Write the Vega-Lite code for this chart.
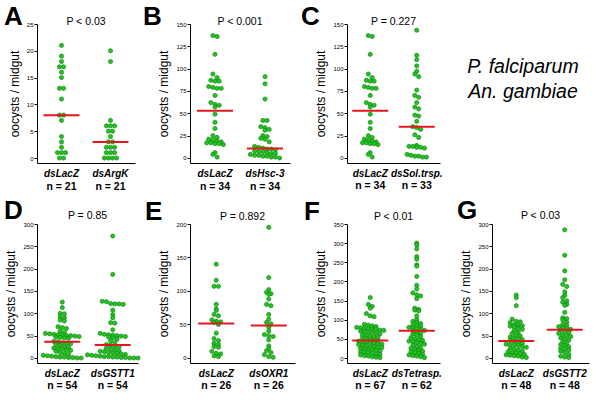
{
"$schema": "https://vega.github.io/schema/vega-lite/v6.json",
"padding": {"left": 4, "top": 4, "right": 5, "bottom": 5},
"datasets": {
"A": [{"g":"dsLacZ","v":21},{"g":"dsLacZ","v":19},{"g":"dsLacZ","v":18},{"g":"dsLacZ","v":17},{"g":"dsLacZ","v":17},{"g":"dsLacZ","v":16},{"g":"dsLacZ","v":15},{"g":"dsLacZ","v":13},{"g":"dsLacZ","v":13},{"g":"dsLacZ","v":11},{"g":"dsLacZ","v":8},{"g":"dsLacZ","v":8},{"g":"dsLacZ","v":7},{"g":"dsLacZ","v":4},{"g":"dsLacZ","v":3},{"g":"dsLacZ","v":2},{"g":"dsLacZ","v":1},{"g":"dsLacZ","v":1},{"g":"dsLacZ","v":1},{"g":"dsLacZ","v":0},{"g":"dsLacZ","v":0},
{"g":"dsArgK","v":20},{"g":"dsArgK","v":18},{"g":"dsArgK","v":7},{"g":"dsArgK","v":6},{"g":"dsArgK","v":6},{"g":"dsArgK","v":6},{"g":"dsArgK","v":5},{"g":"dsArgK","v":5},{"g":"dsArgK","v":4},{"g":"dsArgK","v":3},{"g":"dsArgK","v":3},{"g":"dsArgK","v":2},{"g":"dsArgK","v":2},{"g":"dsArgK","v":2},{"g":"dsArgK","v":1},{"g":"dsArgK","v":1},{"g":"dsArgK","v":1},{"g":"dsArgK","v":0},{"g":"dsArgK","v":0},{"g":"dsArgK","v":0},{"g":"dsArgK","v":0}],
"B": [{"g":"dsLacZ","v":137},{"g":"dsLacZ","v":136},{"g":"dsLacZ","v":116},{"g":"dsLacZ","v":94},{"g":"dsLacZ","v":90},{"g":"dsLacZ","v":87},{"g":"dsLacZ","v":86},{"g":"dsLacZ","v":86},{"g":"dsLacZ","v":80},{"g":"dsLacZ","v":79},{"g":"dsLacZ","v":78},{"g":"dsLacZ","v":78},{"g":"dsLacZ","v":70},{"g":"dsLacZ","v":62},{"g":"dsLacZ","v":60},{"g":"dsLacZ","v":59},{"g":"dsLacZ","v":57},{"g":"dsLacZ","v":49},{"g":"dsLacZ","v":40},{"g":"dsLacZ","v":33},{"g":"dsLacZ","v":25},{"g":"dsLacZ","v":23},{"g":"dsLacZ","v":21},{"g":"dsLacZ","v":20},{"g":"dsLacZ","v":19},{"g":"dsLacZ","v":18},{"g":"dsLacZ","v":17},{"g":"dsLacZ","v":17},{"g":"dsLacZ","v":16},{"g":"dsLacZ","v":16},{"g":"dsLacZ","v":15},{"g":"dsLacZ","v":6},{"g":"dsLacZ","v":4},{"g":"dsLacZ","v":1},
{"g":"dsHsc-3","v":91},{"g":"dsHsc-3","v":83},{"g":"dsHsc-3","v":66},{"g":"dsHsc-3","v":42},{"g":"dsHsc-3","v":42},{"g":"dsHsc-3","v":35},{"g":"dsHsc-3","v":34},{"g":"dsHsc-3","v":32},{"g":"dsHsc-3","v":31},{"g":"dsHsc-3","v":25},{"g":"dsHsc-3","v":24},{"g":"dsHsc-3","v":22},{"g":"dsHsc-3","v":21},{"g":"dsHsc-3","v":18},{"g":"dsHsc-3","v":13},{"g":"dsHsc-3","v":12},{"g":"dsHsc-3","v":11},{"g":"dsHsc-3","v":10},{"g":"dsHsc-3","v":10},{"g":"dsHsc-3","v":9},{"g":"dsHsc-3","v":8},{"g":"dsHsc-3","v":7},{"g":"dsHsc-3","v":7},{"g":"dsHsc-3","v":6},{"g":"dsHsc-3","v":5},{"g":"dsHsc-3","v":5},{"g":"dsHsc-3","v":4},{"g":"dsHsc-3","v":3},{"g":"dsHsc-3","v":3},{"g":"dsHsc-3","v":2},{"g":"dsHsc-3","v":2},{"g":"dsHsc-3","v":1},{"g":"dsHsc-3","v":1},{"g":"dsHsc-3","v":0}],
"C": [{"g":"dsLacZ","v":137},{"g":"dsLacZ","v":136},{"g":"dsLacZ","v":116},{"g":"dsLacZ","v":94},{"g":"dsLacZ","v":90},{"g":"dsLacZ","v":87},{"g":"dsLacZ","v":86},{"g":"dsLacZ","v":86},{"g":"dsLacZ","v":80},{"g":"dsLacZ","v":79},{"g":"dsLacZ","v":78},{"g":"dsLacZ","v":78},{"g":"dsLacZ","v":70},{"g":"dsLacZ","v":62},{"g":"dsLacZ","v":60},{"g":"dsLacZ","v":59},{"g":"dsLacZ","v":57},{"g":"dsLacZ","v":49},{"g":"dsLacZ","v":40},{"g":"dsLacZ","v":33},{"g":"dsLacZ","v":25},{"g":"dsLacZ","v":23},{"g":"dsLacZ","v":21},{"g":"dsLacZ","v":20},{"g":"dsLacZ","v":19},{"g":"dsLacZ","v":18},{"g":"dsLacZ","v":17},{"g":"dsLacZ","v":17},{"g":"dsLacZ","v":16},{"g":"dsLacZ","v":16},{"g":"dsLacZ","v":15},{"g":"dsLacZ","v":6},{"g":"dsLacZ","v":4},{"g":"dsLacZ","v":1},
{"g":"dsSol.trsp.","v":143},{"g":"dsSol.trsp.","v":115},{"g":"dsSol.trsp.","v":110},{"g":"dsSol.trsp.","v":103},{"g":"dsSol.trsp.","v":97},{"g":"dsSol.trsp.","v":94},{"g":"dsSol.trsp.","v":91},{"g":"dsSol.trsp.","v":76},{"g":"dsSol.trsp.","v":70},{"g":"dsSol.trsp.","v":68},{"g":"dsSol.trsp.","v":62},{"g":"dsSol.trsp.","v":57},{"g":"dsSol.trsp.","v":55},{"g":"dsSol.trsp.","v":48},{"g":"dsSol.trsp.","v":47},{"g":"dsSol.trsp.","v":41},{"g":"dsSol.trsp.","v":35},{"g":"dsSol.trsp.","v":34},{"g":"dsSol.trsp.","v":32},{"g":"dsSol.trsp.","v":26},{"g":"dsSol.trsp.","v":23},{"g":"dsSol.trsp.","v":14},{"g":"dsSol.trsp.","v":13},{"g":"dsSol.trsp.","v":13},{"g":"dsSol.trsp.","v":12},{"g":"dsSol.trsp.","v":12},{"g":"dsSol.trsp.","v":11},{"g":"dsSol.trsp.","v":4},{"g":"dsSol.trsp.","v":3},{"g":"dsSol.trsp.","v":2},{"g":"dsSol.trsp.","v":2},{"g":"dsSol.trsp.","v":1},{"g":"dsSol.trsp.","v":1}],
"D": [{"g":"dsLacZ","v":125},{"g":"dsLacZ","v":113},{"g":"dsLacZ","v":100},{"g":"dsLacZ","v":99},{"g":"dsLacZ","v":92},{"g":"dsLacZ","v":90},{"g":"dsLacZ","v":85},{"g":"dsLacZ","v":83},{"g":"dsLacZ","v":70},{"g":"dsLacZ","v":68},{"g":"dsLacZ","v":66},{"g":"dsLacZ","v":60},{"g":"dsLacZ","v":57},{"g":"dsLacZ","v":55},{"g":"dsLacZ","v":54},{"g":"dsLacZ","v":53},{"g":"dsLacZ","v":52},{"g":"dsLacZ","v":51},{"g":"dsLacZ","v":50},{"g":"dsLacZ","v":50},{"g":"dsLacZ","v":49},{"g":"dsLacZ","v":48},{"g":"dsLacZ","v":47},{"g":"dsLacZ","v":46},{"g":"dsLacZ","v":45},{"g":"dsLacZ","v":44},{"g":"dsLacZ","v":37},{"g":"dsLacZ","v":36},{"g":"dsLacZ","v":34},{"g":"dsLacZ","v":33},{"g":"dsLacZ","v":32},{"g":"dsLacZ","v":30},{"g":"dsLacZ","v":28},{"g":"dsLacZ","v":25},{"g":"dsLacZ","v":24},{"g":"dsLacZ","v":22},{"g":"dsLacZ","v":21},{"g":"dsLacZ","v":20},{"g":"dsLacZ","v":18},{"g":"dsLacZ","v":17},{"g":"dsLacZ","v":15},{"g":"dsLacZ","v":12},{"g":"dsLacZ","v":10},{"g":"dsLacZ","v":8},{"g":"dsLacZ","v":6},{"g":"dsLacZ","v":5},{"g":"dsLacZ","v":4},{"g":"dsLacZ","v":3},{"g":"dsLacZ","v":2},{"g":"dsLacZ","v":2},{"g":"dsLacZ","v":1},{"g":"dsLacZ","v":1},{"g":"dsLacZ","v":0},{"g":"dsLacZ","v":0},
{"g":"dsGSTT1","v":273},{"g":"dsGSTT1","v":187},{"g":"dsGSTT1","v":127},{"g":"dsGSTT1","v":126},{"g":"dsGSTT1","v":122},{"g":"dsGSTT1","v":121},{"g":"dsGSTT1","v":121},{"g":"dsGSTT1","v":120},{"g":"dsGSTT1","v":107},{"g":"dsGSTT1","v":97},{"g":"dsGSTT1","v":90},{"g":"dsGSTT1","v":79},{"g":"dsGSTT1","v":78},{"g":"dsGSTT1","v":63},{"g":"dsGSTT1","v":55},{"g":"dsGSTT1","v":53},{"g":"dsGSTT1","v":52},{"g":"dsGSTT1","v":51},{"g":"dsGSTT1","v":50},{"g":"dsGSTT1","v":49},{"g":"dsGSTT1","v":48},{"g":"dsGSTT1","v":47},{"g":"dsGSTT1","v":45},{"g":"dsGSTT1","v":42},{"g":"dsGSTT1","v":38},{"g":"dsGSTT1","v":34},{"g":"dsGSTT1","v":30},{"g":"dsGSTT1","v":28},{"g":"dsGSTT1","v":26},{"g":"dsGSTT1","v":25},{"g":"dsGSTT1","v":22},{"g":"dsGSTT1","v":20},{"g":"dsGSTT1","v":18},{"g":"dsGSTT1","v":16},{"g":"dsGSTT1","v":15},{"g":"dsGSTT1","v":14},{"g":"dsGSTT1","v":12},{"g":"dsGSTT1","v":11},{"g":"dsGSTT1","v":10},{"g":"dsGSTT1","v":9},{"g":"dsGSTT1","v":8},{"g":"dsGSTT1","v":7},{"g":"dsGSTT1","v":6},{"g":"dsGSTT1","v":5},{"g":"dsGSTT1","v":4},{"g":"dsGSTT1","v":3},{"g":"dsGSTT1","v":3},{"g":"dsGSTT1","v":2},{"g":"dsGSTT1","v":2},{"g":"dsGSTT1","v":1},{"g":"dsGSTT1","v":1},{"g":"dsGSTT1","v":0},{"g":"dsGSTT1","v":0},{"g":"dsGSTT1","v":0}],
"E": [{"g":"dsLacZ","v":140},{"g":"dsLacZ","v":116},{"g":"dsLacZ","v":107},{"g":"dsLacZ","v":107},{"g":"dsLacZ","v":80},{"g":"dsLacZ","v":73},{"g":"dsLacZ","v":71},{"g":"dsLacZ","v":65},{"g":"dsLacZ","v":63},{"g":"dsLacZ","v":57},{"g":"dsLacZ","v":55},{"g":"dsLacZ","v":54},{"g":"dsLacZ","v":53},{"g":"dsLacZ","v":50},{"g":"dsLacZ","v":37},{"g":"dsLacZ","v":29},{"g":"dsLacZ","v":26},{"g":"dsLacZ","v":22},{"g":"dsLacZ","v":20},{"g":"dsLacZ","v":17},{"g":"dsLacZ","v":16},{"g":"dsLacZ","v":10},{"g":"dsLacZ","v":7},{"g":"dsLacZ","v":6},{"g":"dsLacZ","v":3},{"g":"dsLacZ","v":2},
{"g":"dsOXR1","v":195},{"g":"dsOXR1","v":120},{"g":"dsOXR1","v":102},{"g":"dsOXR1","v":98},{"g":"dsOXR1","v":96},{"g":"dsOXR1","v":95},{"g":"dsOXR1","v":88},{"g":"dsOXR1","v":80},{"g":"dsOXR1","v":78},{"g":"dsOXR1","v":65},{"g":"dsOXR1","v":58},{"g":"dsOXR1","v":53},{"g":"dsOXR1","v":51},{"g":"dsOXR1","v":46},{"g":"dsOXR1","v":40},{"g":"dsOXR1","v":35},{"g":"dsOXR1","v":33},{"g":"dsOXR1","v":32},{"g":"dsOXR1","v":27},{"g":"dsOXR1","v":18},{"g":"dsOXR1","v":14},{"g":"dsOXR1","v":11},{"g":"dsOXR1","v":8},{"g":"dsOXR1","v":5},{"g":"dsOXR1","v":2},{"g":"dsOXR1","v":1}],
"F": [{"g":"dsLacZ","v":158},{"g":"dsLacZ","v":140},{"g":"dsLacZ","v":135},{"g":"dsLacZ","v":130},{"g":"dsLacZ","v":116},{"g":"dsLacZ","v":110},{"g":"dsLacZ","v":108},{"g":"dsLacZ","v":88},{"g":"dsLacZ","v":86},{"g":"dsLacZ","v":84},{"g":"dsLacZ","v":82},{"g":"dsLacZ","v":80},{"g":"dsLacZ","v":79},{"g":"dsLacZ","v":78},{"g":"dsLacZ","v":77},{"g":"dsLacZ","v":76},{"g":"dsLacZ","v":75},{"g":"dsLacZ","v":73},{"g":"dsLacZ","v":72},{"g":"dsLacZ","v":70},{"g":"dsLacZ","v":69},{"g":"dsLacZ","v":68},{"g":"dsLacZ","v":67},{"g":"dsLacZ","v":65},{"g":"dsLacZ","v":63},{"g":"dsLacZ","v":60},{"g":"dsLacZ","v":58},{"g":"dsLacZ","v":57},{"g":"dsLacZ","v":55},{"g":"dsLacZ","v":54},{"g":"dsLacZ","v":52},{"g":"dsLacZ","v":50},{"g":"dsLacZ","v":48},{"g":"dsLacZ","v":46},{"g":"dsLacZ","v":45},{"g":"dsLacZ","v":44},{"g":"dsLacZ","v":42},{"g":"dsLacZ","v":41},{"g":"dsLacZ","v":40},{"g":"dsLacZ","v":38},{"g":"dsLacZ","v":37},{"g":"dsLacZ","v":36},{"g":"dsLacZ","v":35},{"g":"dsLacZ","v":33},{"g":"dsLacZ","v":32},{"g":"dsLacZ","v":30},{"g":"dsLacZ","v":29},{"g":"dsLacZ","v":28},{"g":"dsLacZ","v":27},{"g":"dsLacZ","v":25},{"g":"dsLacZ","v":24},{"g":"dsLacZ","v":22},{"g":"dsLacZ","v":21},{"g":"dsLacZ","v":20},{"g":"dsLacZ","v":18},{"g":"dsLacZ","v":16},{"g":"dsLacZ","v":15},{"g":"dsLacZ","v":14},{"g":"dsLacZ","v":12},{"g":"dsLacZ","v":10},{"g":"dsLacZ","v":9},{"g":"dsLacZ","v":8},{"g":"dsLacZ","v":6},{"g":"dsLacZ","v":5},{"g":"dsLacZ","v":3},{"g":"dsLacZ","v":2},{"g":"dsLacZ","v":1},
{"g":"dsTetrasp.","v":300},{"g":"dsTetrasp.","v":295},{"g":"dsTetrasp.","v":285},{"g":"dsTetrasp.","v":265},{"g":"dsTetrasp.","v":258},{"g":"dsTetrasp.","v":243},{"g":"dsTetrasp.","v":240},{"g":"dsTetrasp.","v":213},{"g":"dsTetrasp.","v":190},{"g":"dsTetrasp.","v":180},{"g":"dsTetrasp.","v":170},{"g":"dsTetrasp.","v":165},{"g":"dsTetrasp.","v":162},{"g":"dsTetrasp.","v":155},{"g":"dsTetrasp.","v":130},{"g":"dsTetrasp.","v":127},{"g":"dsTetrasp.","v":125},{"g":"dsTetrasp.","v":123},{"g":"dsTetrasp.","v":110},{"g":"dsTetrasp.","v":100},{"g":"dsTetrasp.","v":96},{"g":"dsTetrasp.","v":93},{"g":"dsTetrasp.","v":90},{"g":"dsTetrasp.","v":86},{"g":"dsTetrasp.","v":84},{"g":"dsTetrasp.","v":82},{"g":"dsTetrasp.","v":80},{"g":"dsTetrasp.","v":78},{"g":"dsTetrasp.","v":76},{"g":"dsTetrasp.","v":74},{"g":"dsTetrasp.","v":72},{"g":"dsTetrasp.","v":70},{"g":"dsTetrasp.","v":67},{"g":"dsTetrasp.","v":65},{"g":"dsTetrasp.","v":62},{"g":"dsTetrasp.","v":60},{"g":"dsTetrasp.","v":56},{"g":"dsTetrasp.","v":53},{"g":"dsTetrasp.","v":50},{"g":"dsTetrasp.","v":48},{"g":"dsTetrasp.","v":46},{"g":"dsTetrasp.","v":44},{"g":"dsTetrasp.","v":42},{"g":"dsTetrasp.","v":40},{"g":"dsTetrasp.","v":38},{"g":"dsTetrasp.","v":36},{"g":"dsTetrasp.","v":33},{"g":"dsTetrasp.","v":30},{"g":"dsTetrasp.","v":27},{"g":"dsTetrasp.","v":25},{"g":"dsTetrasp.","v":22},{"g":"dsTetrasp.","v":20},{"g":"dsTetrasp.","v":18},{"g":"dsTetrasp.","v":16},{"g":"dsTetrasp.","v":14},{"g":"dsTetrasp.","v":12},{"g":"dsTetrasp.","v":10},{"g":"dsTetrasp.","v":8},{"g":"dsTetrasp.","v":6},{"g":"dsTetrasp.","v":5},{"g":"dsTetrasp.","v":3},{"g":"dsTetrasp.","v":1}],
"G": [{"g":"dsLacZ","v":141},{"g":"dsLacZ","v":135},{"g":"dsLacZ","v":117},{"g":"dsLacZ","v":87},{"g":"dsLacZ","v":82},{"g":"dsLacZ","v":81},{"g":"dsLacZ","v":79},{"g":"dsLacZ","v":74},{"g":"dsLacZ","v":73},{"g":"dsLacZ","v":72},{"g":"dsLacZ","v":71},{"g":"dsLacZ","v":70},{"g":"dsLacZ","v":66},{"g":"dsLacZ","v":64},{"g":"dsLacZ","v":62},{"g":"dsLacZ","v":57},{"g":"dsLacZ","v":55},{"g":"dsLacZ","v":52},{"g":"dsLacZ","v":49},{"g":"dsLacZ","v":47},{"g":"dsLacZ","v":45},{"g":"dsLacZ","v":43},{"g":"dsLacZ","v":41},{"g":"dsLacZ","v":39},{"g":"dsLacZ","v":37},{"g":"dsLacZ","v":35},{"g":"dsLacZ","v":33},{"g":"dsLacZ","v":31},{"g":"dsLacZ","v":30},{"g":"dsLacZ","v":29},{"g":"dsLacZ","v":28},{"g":"dsLacZ","v":26},{"g":"dsLacZ","v":24},{"g":"dsLacZ","v":22},{"g":"dsLacZ","v":20},{"g":"dsLacZ","v":18},{"g":"dsLacZ","v":16},{"g":"dsLacZ","v":14},{"g":"dsLacZ","v":12},{"g":"dsLacZ","v":11},{"g":"dsLacZ","v":10},{"g":"dsLacZ","v":8},{"g":"dsLacZ","v":7},{"g":"dsLacZ","v":6},{"g":"dsLacZ","v":5},{"g":"dsLacZ","v":4},{"g":"dsLacZ","v":2},{"g":"dsLacZ","v":1},
{"g":"dsGSTT2","v":287},{"g":"dsGSTT2","v":230},{"g":"dsGSTT2","v":195},{"g":"dsGSTT2","v":175},{"g":"dsGSTT2","v":165},{"g":"dsGSTT2","v":160},{"g":"dsGSTT2","v":148},{"g":"dsGSTT2","v":140},{"g":"dsGSTT2","v":135},{"g":"dsGSTT2","v":128},{"g":"dsGSTT2","v":125},{"g":"dsGSTT2","v":120},{"g":"dsGSTT2","v":118},{"g":"dsGSTT2","v":102},{"g":"dsGSTT2","v":90},{"g":"dsGSTT2","v":88},{"g":"dsGSTT2","v":85},{"g":"dsGSTT2","v":80},{"g":"dsGSTT2","v":75},{"g":"dsGSTT2","v":72},{"g":"dsGSTT2","v":70},{"g":"dsGSTT2","v":68},{"g":"dsGSTT2","v":66},{"g":"dsGSTT2","v":64},{"g":"dsGSTT2","v":62},{"g":"dsGSTT2","v":60},{"g":"dsGSTT2","v":57},{"g":"dsGSTT2","v":55},{"g":"dsGSTT2","v":52},{"g":"dsGSTT2","v":50},{"g":"dsGSTT2","v":48},{"g":"dsGSTT2","v":45},{"g":"dsGSTT2","v":42},{"g":"dsGSTT2","v":40},{"g":"dsGSTT2","v":36},{"g":"dsGSTT2","v":32},{"g":"dsGSTT2","v":30},{"g":"dsGSTT2","v":28},{"g":"dsGSTT2","v":25},{"g":"dsGSTT2","v":22},{"g":"dsGSTT2","v":20},{"g":"dsGSTT2","v":18},{"g":"dsGSTT2","v":15},{"g":"dsGSTT2","v":12},{"g":"dsGSTT2","v":8},{"g":"dsGSTT2","v":4},{"g":"dsGSTT2","v":2},{"g":"dsGSTT2","v":1}]
},
"columns": 4,
"spacing": {"row": 61, "column": 52},
"bounds": "flush",
"resolve": {"scale": {"xOffset": "independent"}},
"concat": [
{"width": 98, "height": 139, "title": {"text": "A", "dx": -33},
 "layer": [
  {"data": {"name": "A"}, "transform": [{"calculate": "floor(datum.v / 1)", "as": "row"}, {"window": [{"op": "row_number", "as": "k"}, {"op": "count", "as": "cnt"}], "groupby": ["g", "row"], "frame": [null, null]}, {"calculate": "datum.k - (datum.cnt + 1) / 2", "as": "off"}],
   "mark": {"type": "circle", "size": 18, "fill": "#22c422", "stroke": "#0b7d0b", "strokeWidth": 0.6, "opacity": 1},
   "encoding": {"x": {"field": "g", "type": "nominal", "scale": {"type": "band", "domain": ["dsLacZ", "dsArgK"], "paddingInner": 0, "paddingOuter": 0}, "title": null},
     "xOffset": {"field": "off", "type": "quantitative", "scale": {"domain": [-6, 6]}},
     "y": {"field": "v", "type": "quantitative", "scale": {"domain": [-0.93, 25], "nice": false, "zero": false}, "axis": {"values": [0, 5, 10, 15, 20, 25]}, "title": "oocysts / midgut"}}},
  {"data": {"name": "A"}, "mark": {"type": "tick", "color": "#e3171d", "thickness": 2, "size": 36, "opacity": 1},
   "encoding": {"x": {"field": "g", "type": "nominal", "scale": {"type": "band"}, "title": null}, "y": {"aggregate": "median", "field": "v", "type": "quantitative", "axis": {"values": [0, 5, 10, 15, 20, 25]}, "title": "oocysts / midgut"}}},
  {"data": {"name": "A"}, "transform": [{"aggregate": [{"op": "count", "as": "n"}], "groupby": ["g"]}, {"calculate": "'n = ' + datum.n", "as": "lab"}],
   "mark": {"type": "text", "fontSize": 10.5, "fontWeight": "bold", "dy": 29, "baseline": "middle"},
   "encoding": {"x": {"field": "g", "type": "nominal", "scale": {"type": "band"}, "title": null}, "y": {"datum": 0, "axis": {"values": [0, 5, 10, 15, 20, 25]}, "title": "oocysts / midgut"}, "text": {"field": "lab"}}},
  {"data": {"values": [{"p": "P < 0.03"}]}, "mark": {"type": "text", "fontSize": 10.5, "baseline": "alphabetic", "dy": 1},
   "encoding": {"y": {"datum": 25, "axis": {"values": [0, 5, 10, 15, 20, 25]}, "title": "oocysts / midgut"}, "text": {"field": "p"}}}
 ]},
{"width": 100, "height": 139, "title": {"text": "B", "dx": -47},
 "layer": [
  {"data": {"name": "B"}, "transform": [{"calculate": "floor(datum.v / 4.5)", "as": "row"}, {"window": [{"op": "row_number", "as": "k"}, {"op": "count", "as": "cnt"}], "groupby": ["g", "row"], "frame": [null, null]}, {"calculate": "datum.k - (datum.cnt + 1) / 2", "as": "off"}],
   "mark": {"type": "circle", "size": 18, "fill": "#22c422", "stroke": "#0b7d0b", "strokeWidth": 0.6, "opacity": 1},
   "encoding": {"x": {"field": "g", "type": "nominal", "scale": {"type": "band", "domain": ["dsLacZ", "dsHsc-3"], "paddingInner": 0, "paddingOuter": 0}, "title": null},
     "xOffset": {"field": "off", "type": "quantitative", "scale": {"domain": [-6, 6]}},
     "y": {"field": "v", "type": "quantitative", "scale": {"domain": [-5.6, 150], "nice": false, "zero": false}, "axis": {"values": [0, 25, 50, 75, 100, 125, 150]}, "title": "oocysts / midgut"}}},
  {"data": {"name": "B"}, "mark": {"type": "tick", "color": "#e3171d", "thickness": 2, "size": 36, "opacity": 1},
   "encoding": {"x": {"field": "g", "type": "nominal", "scale": {"type": "band"}, "title": null}, "y": {"aggregate": "median", "field": "v", "type": "quantitative", "axis": {"values": [0, 25, 50, 75, 100, 125, 150]}, "title": "oocysts / midgut"}}},
  {"data": {"name": "B"}, "transform": [{"aggregate": [{"op": "count", "as": "n"}], "groupby": ["g"]}, {"calculate": "'n = ' + datum.n", "as": "lab"}],
   "mark": {"type": "text", "fontSize": 10.5, "fontWeight": "bold", "dy": 29, "baseline": "middle"},
   "encoding": {"x": {"field": "g", "type": "nominal", "scale": {"type": "band"}, "title": null}, "y": {"datum": 0, "axis": {"values": [0, 25, 50, 75, 100, 125, 150]}, "title": "oocysts / midgut"}, "text": {"field": "lab"}}},
  {"data": {"values": [{"p": "P < 0.001"}]}, "mark": {"type": "text", "fontSize": 10.5, "baseline": "alphabetic", "dy": 1},
   "encoding": {"y": {"datum": 150, "axis": {"values": [0, 25, 50, 75, 100, 125, 150]}, "title": "oocysts / midgut"}, "text": {"field": "p"}}}
 ]},
{"width": 93, "height": 139, "title": {"text": "C", "dx": -46},
 "layer": [
  {"data": {"name": "C"}, "transform": [{"calculate": "floor(datum.v / 4.5)", "as": "row"}, {"window": [{"op": "row_number", "as": "k"}, {"op": "count", "as": "cnt"}], "groupby": ["g", "row"], "frame": [null, null]}, {"calculate": "datum.k - (datum.cnt + 1) / 2", "as": "off"}],
   "mark": {"type": "circle", "size": 18, "fill": "#22c422", "stroke": "#0b7d0b", "strokeWidth": 0.6, "opacity": 1},
   "encoding": {"x": {"field": "g", "type": "nominal", "scale": {"type": "band", "domain": ["dsLacZ", "dsSol.trsp."], "paddingInner": 0, "paddingOuter": 0}, "title": null},
     "xOffset": {"field": "off", "type": "quantitative", "scale": {"domain": [-6, 6]}},
     "y": {"field": "v", "type": "quantitative", "scale": {"domain": [-5.6, 150], "nice": false, "zero": false}, "axis": {"values": [0, 25, 50, 75, 100, 125, 150]}, "title": "oocysts / midgut"}}},
  {"data": {"name": "C"}, "mark": {"type": "tick", "color": "#e3171d", "thickness": 2, "size": 36, "opacity": 1},
   "encoding": {"x": {"field": "g", "type": "nominal", "scale": {"type": "band"}, "title": null}, "y": {"aggregate": "median", "field": "v", "type": "quantitative", "axis": {"values": [0, 25, 50, 75, 100, 125, 150]}, "title": "oocysts / midgut"}}},
  {"data": {"name": "C"}, "transform": [{"aggregate": [{"op": "count", "as": "n"}], "groupby": ["g"]}, {"calculate": "'n = ' + datum.n", "as": "lab"}],
   "mark": {"type": "text", "fontSize": 10.5, "fontWeight": "bold", "dy": 28, "baseline": "middle"},
   "encoding": {"x": {"field": "g", "type": "nominal", "scale": {"type": "band"}, "title": null}, "y": {"datum": 0, "axis": {"values": [0, 25, 50, 75, 100, 125, 150]}, "title": "oocysts / midgut"}, "text": {"field": "lab"}}},
  {"data": {"values": [{"p": "P = 0.227"}]}, "mark": {"type": "text", "fontSize": 10.5, "baseline": "alphabetic", "dy": 1},
   "encoding": {"y": {"datum": 150, "axis": {"values": [0, 25, 50, 75, 100, 125, 150]}, "title": "oocysts / midgut"}, "text": {"field": "p"}}}
 ]},
{"width": 62, "height": 139, "data": {"values": [{"note": "species"}]},
 "mark": {"type": "text", "text": ["P. falciparum", "An. gambiae"], "fontSize": 19.5, "fontStyle": "italic", "lineHeight": 25, "dy": -27},
 "encoding": {}},
{"width": 101, "height": 139, "title": {"text": "D", "dx": -33},
 "layer": [
  {"data": {"name": "D"}, "transform": [{"calculate": "floor(datum.v / 8)", "as": "row"}, {"window": [{"op": "row_number", "as": "k"}, {"op": "count", "as": "cnt"}], "groupby": ["g", "row"], "frame": [null, null]}, {"calculate": "datum.k - (datum.cnt + 1) / 2", "as": "off"}],
   "mark": {"type": "circle", "size": 18, "fill": "#22c422", "stroke": "#0b7d0b", "strokeWidth": 0.6, "opacity": 1},
   "encoding": {"x": {"field": "g", "type": "nominal", "scale": {"type": "band", "domain": ["dsLacZ", "dsGSTT1"], "paddingInner": 0, "paddingOuter": 0}, "title": null},
     "xOffset": {"field": "off", "type": "quantitative", "scale": {"domain": [-6, 6]}},
     "y": {"field": "v", "type": "quantitative", "scale": {"domain": [-11.2, 300], "nice": false, "zero": false}, "axis": {"values": [0, 50, 100, 150, 200, 250, 300]}, "title": "oocysts / midgut"}}},
  {"data": {"name": "D"}, "mark": {"type": "tick", "color": "#e3171d", "thickness": 2, "size": 36, "opacity": 1},
   "encoding": {"x": {"field": "g", "type": "nominal", "scale": {"type": "band"}, "title": null}, "y": {"aggregate": "median", "field": "v", "type": "quantitative", "axis": {"values": [0, 50, 100, 150, 200, 250, 300]}, "title": "oocysts / midgut"}}},
  {"data": {"name": "D"}, "transform": [{"aggregate": [{"op": "count", "as": "n"}], "groupby": ["g"]}, {"calculate": "'n = ' + datum.n", "as": "lab"}],
   "mark": {"type": "text", "fontSize": 10.5, "fontWeight": "bold", "dy": 28, "baseline": "middle"},
   "encoding": {"x": {"field": "g", "type": "nominal", "scale": {"type": "band"}, "title": null}, "y": {"datum": 0, "axis": {"values": [0, 50, 100, 150, 200, 250, 300]}, "title": "oocysts / midgut"}, "text": {"field": "lab"}}},
  {"data": {"values": [{"p": "P = 0.85"}]}, "mark": {"type": "text", "fontSize": 10.5, "baseline": "alphabetic", "dy": -5},
   "encoding": {"y": {"datum": 300, "axis": {"values": [0, 50, 100, 150, 200, 250, 300]}, "title": "oocysts / midgut"}, "text": {"field": "p"}}}
 ]},
{"width": 105, "height": 139, "title": {"text": "E", "dx": -45},
 "layer": [
  {"data": {"name": "E"}, "transform": [{"calculate": "floor(datum.v / 6)", "as": "row"}, {"window": [{"op": "row_number", "as": "k"}, {"op": "count", "as": "cnt"}], "groupby": ["g", "row"], "frame": [null, null]}, {"calculate": "datum.k - (datum.cnt + 1) / 2", "as": "off"}],
   "mark": {"type": "circle", "size": 18, "fill": "#22c422", "stroke": "#0b7d0b", "strokeWidth": 0.6, "opacity": 1},
   "encoding": {"x": {"field": "g", "type": "nominal", "scale": {"type": "band", "domain": ["dsLacZ", "dsOXR1"], "paddingInner": 0, "paddingOuter": 0}, "title": null},
     "xOffset": {"field": "off", "type": "quantitative", "scale": {"domain": [-6, 6]}},
     "y": {"field": "v", "type": "quantitative", "scale": {"domain": [-7.5, 200], "nice": false, "zero": false}, "axis": {"values": [0, 50, 100, 150, 200]}, "title": "oocysts / midgut"}}},
  {"data": {"name": "E"}, "mark": {"type": "tick", "color": "#e3171d", "thickness": 2, "size": 36, "opacity": 1},
   "encoding": {"x": {"field": "g", "type": "nominal", "scale": {"type": "band"}, "title": null}, "y": {"aggregate": "median", "field": "v", "type": "quantitative", "axis": {"values": [0, 50, 100, 150, 200]}, "title": "oocysts / midgut"}}},
  {"data": {"name": "E"}, "transform": [{"aggregate": [{"op": "count", "as": "n"}], "groupby": ["g"]}, {"calculate": "'n = ' + datum.n", "as": "lab"}],
   "mark": {"type": "text", "fontSize": 10.5, "fontWeight": "bold", "dy": 28, "baseline": "middle"},
   "encoding": {"x": {"field": "g", "type": "nominal", "scale": {"type": "band"}, "title": null}, "y": {"datum": 0, "axis": {"values": [0, 50, 100, 150, 200]}, "title": "oocysts / midgut"}, "text": {"field": "lab"}}},
  {"data": {"values": [{"p": "P = 0.892"}]}, "mark": {"type": "text", "fontSize": 10.5, "baseline": "alphabetic", "dy": -4},
   "encoding": {"y": {"datum": 200, "axis": {"values": [0, 50, 100, 150, 200]}, "title": "oocysts / midgut"}, "text": {"field": "p"}}}
 ]},
{"width": 93, "height": 139, "title": {"text": "F", "dx": -43},
 "layer": [
  {"data": {"name": "F"}, "transform": [{"calculate": "floor(datum.v / 9)", "as": "row"}, {"window": [{"op": "row_number", "as": "k"}, {"op": "count", "as": "cnt"}], "groupby": ["g", "row"], "frame": [null, null]}, {"calculate": "datum.k - (datum.cnt + 1) / 2", "as": "off"}],
   "mark": {"type": "circle", "size": 18, "fill": "#22c422", "stroke": "#0b7d0b", "strokeWidth": 0.6, "opacity": 1},
   "encoding": {"x": {"field": "g", "type": "nominal", "scale": {"type": "band", "domain": ["dsLacZ", "dsTetrasp."], "paddingInner": 0, "paddingOuter": 0}, "title": null},
     "xOffset": {"field": "off", "type": "quantitative", "scale": {"domain": [-6, 6]}},
     "y": {"field": "v", "type": "quantitative", "scale": {"domain": [-13, 350], "nice": false, "zero": false}, "axis": {"values": [0, 50, 100, 150, 200, 250, 300, 350]}, "title": "oocysts / midgut"}}},
  {"data": {"name": "F"}, "mark": {"type": "tick", "color": "#e3171d", "thickness": 2, "size": 36, "opacity": 1},
   "encoding": {"x": {"field": "g", "type": "nominal", "scale": {"type": "band"}, "title": null}, "y": {"aggregate": "median", "field": "v", "type": "quantitative", "axis": {"values": [0, 50, 100, 150, 200, 250, 300, 350]}, "title": "oocysts / midgut"}}},
  {"data": {"name": "F"}, "transform": [{"aggregate": [{"op": "count", "as": "n"}], "groupby": ["g"]}, {"calculate": "'n = ' + datum.n", "as": "lab"}],
   "mark": {"type": "text", "fontSize": 10.5, "fontWeight": "bold", "dy": 28, "baseline": "middle"},
   "encoding": {"x": {"field": "g", "type": "nominal", "scale": {"type": "band"}, "title": null}, "y": {"datum": 0, "axis": {"values": [0, 50, 100, 150, 200, 250, 300, 350]}, "title": "oocysts / midgut"}, "text": {"field": "lab"}}},
  {"data": {"values": [{"p": "P < 0.01"}]}, "mark": {"type": "text", "fontSize": 10.5, "baseline": "alphabetic", "dy": -4},
   "encoding": {"y": {"datum": 350, "axis": {"values": [0, 50, 100, 150, 200, 250, 300, 350]}, "title": "oocysts / midgut"}, "text": {"field": "p"}}}
 ]},
{"width": 97, "height": 139, "title": {"text": "G", "dx": -35},
 "layer": [
  {"data": {"name": "G"}, "transform": [{"calculate": "floor(datum.v / 8)", "as": "row"}, {"window": [{"op": "row_number", "as": "k"}, {"op": "count", "as": "cnt"}], "groupby": ["g", "row"], "frame": [null, null]}, {"calculate": "datum.k - (datum.cnt + 1) / 2", "as": "off"}],
   "mark": {"type": "circle", "size": 18, "fill": "#22c422", "stroke": "#0b7d0b", "strokeWidth": 0.6, "opacity": 1},
   "encoding": {"x": {"field": "g", "type": "nominal", "scale": {"type": "band", "domain": ["dsLacZ", "dsGSTT2"], "paddingInner": 0, "paddingOuter": 0}, "title": null},
     "xOffset": {"field": "off", "type": "quantitative", "scale": {"domain": [-6, 6]}},
     "y": {"field": "v", "type": "quantitative", "scale": {"domain": [-11.2, 300], "nice": false, "zero": false}, "axis": {"values": [0, 50, 100, 150, 200, 250, 300]}, "title": "oocysts / midgut"}}},
  {"data": {"name": "G"}, "mark": {"type": "tick", "color": "#e3171d", "thickness": 2, "size": 36, "opacity": 1},
   "encoding": {"x": {"field": "g", "type": "nominal", "scale": {"type": "band"}, "title": null}, "y": {"aggregate": "median", "field": "v", "type": "quantitative", "axis": {"values": [0, 50, 100, 150, 200, 250, 300]}, "title": "oocysts / midgut"}}},
  {"data": {"name": "G"}, "transform": [{"aggregate": [{"op": "count", "as": "n"}], "groupby": ["g"]}, {"calculate": "'n = ' + datum.n", "as": "lab"}],
   "mark": {"type": "text", "fontSize": 10.5, "fontWeight": "bold", "dy": 28, "baseline": "middle"},
   "encoding": {"x": {"field": "g", "type": "nominal", "scale": {"type": "band"}, "title": null}, "y": {"datum": 0, "axis": {"values": [0, 50, 100, 150, 200, 250, 300]}, "title": "oocysts / midgut"}, "text": {"field": "lab"}}},
  {"data": {"values": [{"p": "P < 0.03"}]}, "mark": {"type": "text", "fontSize": 10.5, "baseline": "alphabetic", "dy": -5},
   "encoding": {"y": {"datum": 300, "axis": {"values": [0, 50, 100, 150, 200, 250, 300]}, "title": "oocysts / midgut"}, "text": {"field": "p"}}}
 ]}
],
"config": {
 "font": "Liberation Sans",
 "view": {"stroke": null},
 "axis": {"grid": false, "domainColor": "#000000", "tickColor": "#000000", "labelColor": "#000000", "titleColor": "#000000", "domainWidth": 1},
 "axisY": {"tickSize": 3, "labelFontSize": 6, "labelPadding": 1, "titleFontSize": 12, "titleFontWeight": "normal", "titlePadding": 5, "labelFlush": false, "labelOverlap": false},
 "axisX": {"ticks": false, "labelFontSize": 10, "labelFontWeight": "bold", "labelFontStyle": "italic", "labelPadding": 5, "labelAngle": 0, "labelOverlap": false, "labelBound": false, "labelLimit": 0, "labelFlush": false},
 "title": {"fontSize": 26, "fontWeight": "bold", "anchor": "start", "frame": "group", "color": "#000000", "offset": -13},
 "text": {"color": "#000000"}
}
}
